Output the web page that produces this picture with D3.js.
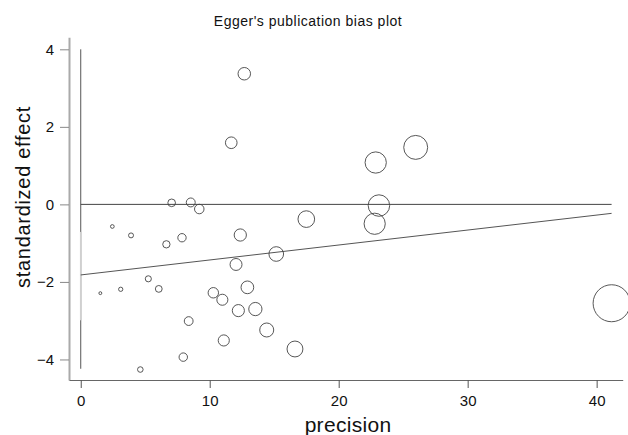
<!DOCTYPE html>
<html>
<head>
<meta charset="utf-8">
<script src="https://cdn.jsdelivr.net/npm/d3@7"></script>
<style>
  body { margin: 0; background: #fff; }
  svg { display: block; font-family: "Liberation Sans", Arial, sans-serif; }
</style>
</head>
<body>
<div id="chart"></div>
<script>
var width = 628,
    height = 435;

// study values
var precision = [12.68, 11.67, 25.97, 22.87, 23.12, 22.79, 17.49, 7.05, 8.53, 9.19,
                 2.45, 3.90, 6.64, 7.85, 12.37, 12.04, 15.16, 5.24, 1.52, 3.10,
                 6.05, 10.28, 10.98, 12.22, 12.92, 13.54, 8.37, 11.09, 7.95, 4.62,
                 14.42, 16.61, 41.16];
var stdEffect = [3.37, 1.59, 1.47, 1.08, -0.03, -0.50, -0.38, 0.04, 0.05, -0.12,
                 -0.57, -0.80, -1.03, -0.86, -0.79, -1.55, -1.28, -1.92, -2.29, -2.19,
                 -2.18, -2.28, -2.46, -2.74, -2.14, -2.70, -3.01, -3.51, -3.94, -4.26,
                 -3.24, -3.73, -2.55];

// Egger regression: intercept and slope, plus intercept CI
var eggerIntercept = -1.82,
    eggerSlope = 0.0386;
var interceptCI = [-2.99, -0.71];
var yAxisSpan = [-4.24, 4];

var xTicks = [0, 10, 20, 30, 40],
    yTicks = [-4, -2, 0, 2, 4];

var x = d3.scaleLinear().domain([-0.91, 42.02]).range([69, 622.7]);
var y = d3.scaleLinear().domain([-4.53, 4.31]).range([380, 37.3]);
var r = d3.scaleLinear().domain([0, 41.16]).range([0.8, 18.5]);

var svg = d3.select("#chart").append("svg")
    .attr("width", width)
    .attr("height", height);

var maxP = d3.max(precision);

// vertical line at precision 0
svg.append("line")
    .attr("x1", x(0)).attr("x2", x(0))
    .attr("y1", y(yAxisSpan[1])).attr("y2", y(yAxisSpan[0]))
    .attr("stroke", "#555").attr("stroke-width", 1);

svg.append("line")
    .attr("x1", x(0)).attr("x2", x(0))
    .attr("y1", y(interceptCI[1])).attr("y2", y(interceptCI[0]))
    .attr("stroke", "#d0d0d0").attr("stroke-width", 1.6);

// zero line
svg.append("line")
    .attr("x1", x(0)).attr("x2", x(maxP))
    .attr("y1", y(0)).attr("y2", y(0))
    .attr("stroke", "#444").attr("stroke-width", 1);

// regression line
svg.append("line")
    .attr("x1", x(0)).attr("x2", x(maxP))
    .attr("y1", y(eggerIntercept)).attr("y2", y(eggerIntercept + eggerSlope * maxP))
    .attr("stroke", "#555").attr("stroke-width", 1);

// study markers
svg.append("g").selectAll("circle")
    .data(precision)
    .enter().append("circle")
    .attr("cx", function(d) { return x(d); })
    .attr("cy", function(d, i) { return y(stdEffect[i]); })
    .attr("r", function(d) { return r(d); })
    .attr("fill", "none")
    .attr("stroke", "#444")
    .attr("stroke-width", 0.9);

// axes
var yAxis = svg.append("g")
    .attr("transform", "translate(69,0)")
    .call(d3.axisLeft(y).tickValues(yTicks).tickSize(9).tickSizeOuter(0).tickPadding(6));
yAxis.select(".domain").attr("stroke", "#aaa").attr("stroke-width", 2);
yAxis.selectAll(".tick line").attr("stroke", "#888");
yAxis.selectAll(".tick text").attr("font-size", 15).attr("fill", "#111")
    .attr("font-family", "Liberation Sans, Arial, sans-serif");

var xAxis = svg.append("g")
    .attr("transform", "translate(0,380)")
    .call(d3.axisBottom(x).tickValues(xTicks).tickSize(8).tickSizeOuter(0).tickPadding(7));
xAxis.select(".domain").attr("stroke", "#666").attr("stroke-width", 1.2);
xAxis.selectAll(".tick line").attr("stroke", "#555");
xAxis.selectAll(".tick text").attr("font-size", 15).attr("fill", "#111")
    .attr("font-family", "Liberation Sans, Arial, sans-serif");

// titles
svg.append("text")
    .attr("x", 308).attr("y", 26)
    .attr("text-anchor", "middle")
    .attr("font-size", 14)
    .attr("letter-spacing", 0.5)
    .attr("fill", "#111")
    .text("Egger's publication bias plot");

svg.append("text")
    .attr("x", 348).attr("y", 432)
    .attr("text-anchor", "middle")
    .attr("font-size", 21)
    .attr("letter-spacing", 0.3)
    .attr("fill", "#111")
    .text("precision");

svg.append("text")
    .attr("transform", "translate(30,197) rotate(-90)")
    .attr("text-anchor", "middle")
    .attr("font-size", 20)
    .attr("letter-spacing", 0.7)
    .attr("fill", "#111")
    .text("standardized effect");
</script>
</body>
</html>
